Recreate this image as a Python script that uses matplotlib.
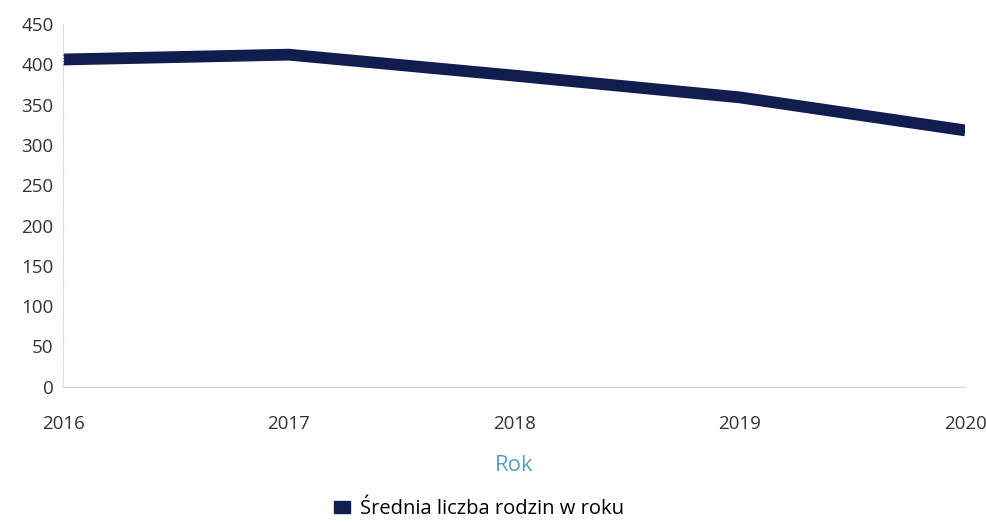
import matplotlib
matplotlib.use("Agg")
import matplotlib.pyplot as plt
from matplotlib.patches import Patch

plt.rcParams['font.family'] = ['Open Sans', 'DejaVu Sans']

# Dane
lata = [2016, 2017, 2018, 2019, 2020]
rodziny = [406, 412, 386, 359, 318]
etykieta = 'Średnia liczba rodzin w roku'

kolor = '#111d4f'

fig = plt.figure(figsize=(9.87, 5.22), dpi=100)
ax = fig.add_axes([0.064, 0.259, 0.914, 0.695])

ax.plot(lata, rodziny, color=kolor, linewidth=8.5, solid_capstyle='butt')

ax.set_xlim(2016, 2020)
ax.set_ylim(0, 450)
ax.set_yticks(range(0, 451, 50))
ax.set_xticks(lata)
ax.tick_params(axis='both', length=0, labelsize=13.5, colors='#333333')
ax.tick_params(axis='x', pad=20)
ax.tick_params(axis='y', pad=7)

for s in ['top', 'right']:
    ax.spines[s].set_visible(False)
ax.spines['left'].set_color('#c9d6e3')
ax.spines['left'].set_linestyle(':')
ax.spines['left'].set_linewidth(0.8)
ax.spines['bottom'].set_color('#c9d6e3')
ax.spines['bottom'].set_linewidth(0.8)

ax.set_xlabel('Rok', fontsize=16, color='#5b9fc9', labelpad=16)

fig.legend(handles=[Patch(color=kolor, label=etykieta)], loc='center',
           bbox_to_anchor=(0.485, 0.025), frameon=False, fontsize=14.5,
           handlelength=0.8, handleheight=0.55, handletextpad=0.5)

fig.savefig('out.png', dpi=100)
